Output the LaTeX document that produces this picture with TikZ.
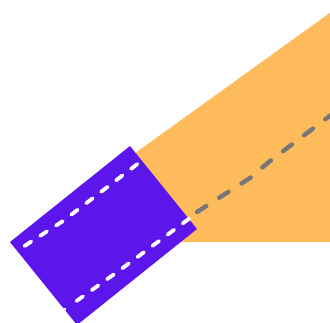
\documentclass[tikz,border=0pt]{standalone}
\definecolor{bandorange}{RGB}{253,187,92}
\definecolor{boxpurple}{RGB}{92,22,235}
\definecolor{dashgray}{RGB}{119,119,119}
\tikzset{
  whitedash/.style={draw=white, line width=3.8pt, line cap=round, dash pattern=on 8pt off 10.8pt},
  graydash/.style={draw=dashgray, line width=4.4pt, line cap=round, dash pattern=on 11pt off 15.4pt}
}
\begin{document}
\begin{tikzpicture}[x=1pt,y=-1pt]
\useasboundingbox (0,0) rectangle (330,322);
\clip (0,0) rectangle (330,322);
% orange band
\fill[bandorange] (120,164) -- (345,2) -- (345,242) -- (170,242) -- cycle;
% gray dashed path
\draw[graydash] (197,212) -- (250,178) -- (270,161) -- (335,112);
% purple box
\fill[boxpurple] (130,146) -- (197,229) -- (77,325) -- (10,242) -- cycle;
% white dashed lines
\draw[whitedash] (24.5,246) -- (63,221) -- (140,162);
\draw[whitedash] (76.5,301) -- (120,270) -- (190,218);
\begin{scope}
\clip (130,146) -- (197,229) -- (77,325) -- (10,242) -- cycle;
\draw[whitedash] (58,314) -- (65,309);
\end{scope}
\end{tikzpicture}
\end{document}
